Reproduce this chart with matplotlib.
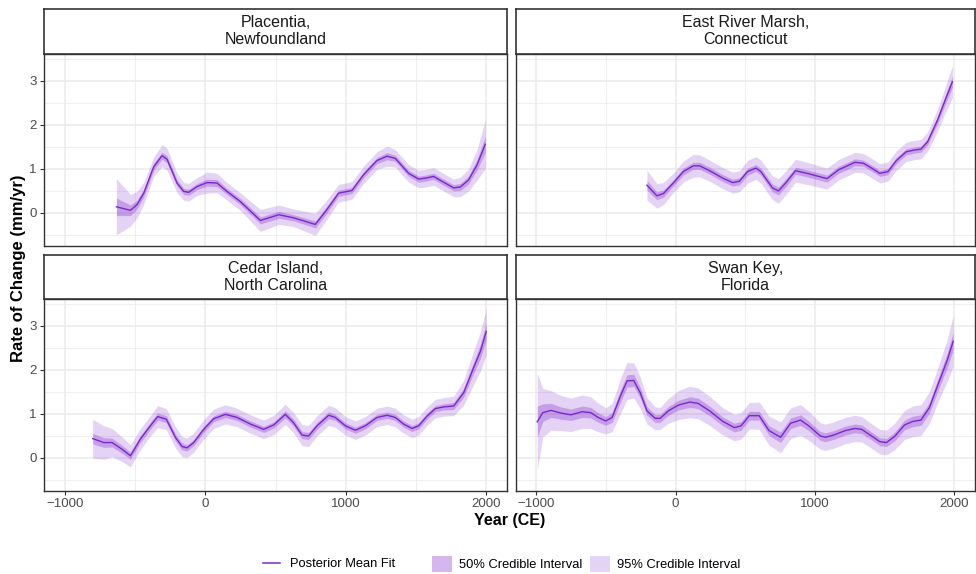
import numpy as np
import matplotlib
matplotlib.use("Agg")
import matplotlib.pyplot as plt
from matplotlib.lines import Line2D
from matplotlib.patches import Patch

plt.rcParams['font.family'] = ['Liberation Sans', 'DejaVu Sans']

# ---- data ----
sites = ["Placentia,\nNewfoundland", "East River Marsh,\nConnecticut",
         "Cedar Island,\nNorth Carolina", "Swan Key,\nFlorida"]

plac_year = [-634, -534, -487, -439, -368, -309, -273, -202, -154, -119, -59, 12, 83, 154, 249,
             392, 523, 629, 784, 867, 950, 1045, 1128, 1223, 1295, 1354, 1449, 1520, 1568, 1627,
             1686, 1770, 1817, 1876, 1936, 1995]
plac_mean = [0.14, 0.06, 0.19, 0.45, 1.05, 1.30, 1.22, 0.68, 0.49, 0.47, 0.60, 0.69, 0.68, 0.49, 0.26,
             -0.17, -0.04, -0.11, -0.26, 0.08, 0.45, 0.51, 0.87, 1.19, 1.29, 1.24, 0.90, 0.77, 0.79, 0.83,
             0.72, 0.57, 0.59, 0.75, 1.09, 1.56]
plac_hw95 = [0.64, 0.36, 0.30, 0.25, 0.22, 0.25, 0.25, 0.22, 0.20, 0.20, 0.20, 0.24, 0.22, 0.20, 0.20,
             0.25, 0.22, 0.20, 0.25, 0.22, 0.20, 0.20, 0.20, 0.20, 0.23, 0.20, 0.20, 0.20, 0.20, 0.20,
             0.20, 0.20, 0.22, 0.25, 0.35, 0.55]
plac_hw50 = [0.20, 0.12, 0.10, 0.09, 0.08, 0.08, 0.08, 0.07, 0.07, 0.07, 0.07, 0.08, 0.08, 0.07, 0.07,
             0.08, 0.08, 0.07, 0.08, 0.08, 0.07, 0.07, 0.07, 0.07, 0.08, 0.07, 0.07, 0.07, 0.07, 0.07,
             0.07, 0.07, 0.08, 0.09, 0.12, 0.18]

erm_year = [-206, -135, -88, -17, 55, 126, 173, 244, 339, 410, 458, 517, 577, 612, 695, 738, 790,
            861, 956, 1087, 1170, 1288, 1348, 1407, 1466, 1525, 1585, 1656, 1715, 1762, 1810, 1881,
            1940, 1988]
erm_mean = [0.63, 0.39, 0.44, 0.68, 0.94, 1.07, 1.07, 0.96, 0.79, 0.69, 0.72, 0.94, 1.02, 0.94, 0.57,
            0.50, 0.68, 0.96, 0.89, 0.78, 0.98, 1.15, 1.13, 1.02, 0.90, 0.94, 1.19, 1.39, 1.43, 1.45,
            1.62, 2.11, 2.60, 2.98]
erm_hw95 = [0.34, 0.28, 0.25, 0.22, 0.24, 0.26, 0.25, 0.24, 0.24, 0.24, 0.24, 0.26, 0.26, 0.26, 0.27,
            0.28, 0.27, 0.26, 0.25, 0.24, 0.23, 0.23, 0.22, 0.22, 0.22, 0.22, 0.22, 0.22, 0.22, 0.22,
            0.22, 0.25, 0.30, 0.36]
erm_hw50 = [0.11, 0.09, 0.08, 0.07, 0.08, 0.08, 0.08, 0.08, 0.08, 0.08, 0.08, 0.08, 0.08, 0.08, 0.09,
            0.09, 0.09, 0.08, 0.08, 0.08, 0.08, 0.08, 0.07, 0.07, 0.07, 0.07, 0.07, 0.07, 0.07, 0.07,
            0.07, 0.08, 0.10, 0.13]

ced_year = [-803, -724, -665, -594, -534, -463, -392, -340, -278, -214, -166, -131, -83, -12, 59,
            143, 226, 321, 416, 487, 570, 629, 689, 736, 796, 879, 926, 998, 1069, 1140, 1223, 1295,
            1354, 1413, 1473, 1520, 1580, 1639, 1698, 1770, 1841, 1912, 1960, 2002]
ced_mean = [0.44, 0.35, 0.35, 0.20, 0.05, 0.43, 0.73, 0.94, 0.88, 0.47, 0.26, 0.23, 0.35, 0.65, 0.89,
            0.99, 0.92, 0.77, 0.65, 0.75, 0.99, 0.80, 0.52, 0.50, 0.73, 0.97, 0.92, 0.73, 0.63, 0.73,
            0.92, 0.97, 0.92, 0.77, 0.67, 0.73, 0.95, 1.12, 1.16, 1.18, 1.48, 2.05, 2.42, 2.87]
ced_hw95 = [0.44, 0.38, 0.32, 0.28, 0.25, 0.24, 0.23, 0.25, 0.24, 0.24, 0.23, 0.22, 0.22, 0.22, 0.22,
            0.22, 0.21, 0.21, 0.21, 0.22, 0.23, 0.23, 0.24, 0.24, 0.23, 0.23, 0.22, 0.21, 0.21, 0.21,
            0.21, 0.21, 0.21, 0.21, 0.21, 0.21, 0.21, 0.21, 0.21, 0.22, 0.28, 0.38, 0.45, 0.53]
ced_hw50 = [0.12, 0.11, 0.10, 0.09, 0.08, 0.08, 0.08, 0.08, 0.08, 0.08, 0.08, 0.07, 0.07, 0.07, 0.07,
            0.07, 0.07, 0.07, 0.07, 0.07, 0.08, 0.08, 0.08, 0.08, 0.08, 0.08, 0.07, 0.07, 0.07, 0.07,
            0.07, 0.07, 0.07, 0.07, 0.07, 0.07, 0.07, 0.07, 0.07, 0.08, 0.10, 0.13, 0.16, 0.19]

swan_year = [-994, -954, -895, -824, -753, -671, -610, -562, -503, -456, -396, -349, -301, -254, -206,
             -147, -111, -52, 19, 102, 161, 244, 339, 422, 470, 529, 600, 671, 754, 826, 897, 956,
             1039, 1075, 1134, 1217, 1288, 1336, 1407, 1466, 1514, 1573, 1644, 1703, 1762, 1822, 1893,
             1952, 1993]
swan_mean = [0.82, 1.03, 1.08, 1.02, 0.98, 1.05, 1.03, 0.93, 0.84, 0.92, 1.41, 1.75, 1.76, 1.48, 1.07,
             0.90, 0.90, 1.07, 1.20, 1.27, 1.24, 1.07, 0.83, 0.69, 0.73, 0.96, 0.96, 0.62, 0.47, 0.79,
             0.86, 0.73, 0.50, 0.47, 0.52, 0.62, 0.67, 0.65, 0.50, 0.37, 0.35, 0.49, 0.75, 0.83, 0.86,
             1.14, 1.74, 2.23, 2.65]
swan_hw95 = [1.10, 0.55, 0.45, 0.40, 0.38, 0.38, 0.36, 0.33, 0.30, 0.32, 0.40, 0.42, 0.40, 0.36, 0.30,
             0.26, 0.25, 0.28, 0.33, 0.36, 0.35, 0.33, 0.31, 0.30, 0.30, 0.30, 0.31, 0.33, 0.35, 0.35,
             0.35, 0.33, 0.30, 0.30, 0.30, 0.30, 0.30, 0.29, 0.28, 0.28, 0.28, 0.30, 0.33, 0.35, 0.35,
             0.36, 0.40, 0.48, 0.58]
swan_hw50 = [0.36, 0.20, 0.16, 0.14, 0.13, 0.13, 0.12, 0.11, 0.10, 0.11, 0.14, 0.14, 0.14, 0.12, 0.10,
             0.09, 0.09, 0.10, 0.11, 0.12, 0.12, 0.11, 0.10, 0.10, 0.10, 0.10, 0.10, 0.11, 0.12, 0.12,
             0.12, 0.11, 0.10, 0.10, 0.10, 0.10, 0.10, 0.10, 0.09, 0.09, 0.09, 0.10, 0.11, 0.12, 0.12,
             0.12, 0.14, 0.17, 0.20]

series = [(plac_year, plac_mean, plac_hw95, plac_hw50),
          (erm_year, erm_mean, erm_hw95, erm_hw50),
          (ced_year, ced_mean, ced_hw95, ced_hw50),
          (swan_year, swan_mean, swan_hw95, swan_hw50)]

xticks = [-1000, 0, 1000, 2000]
yticks = [0, 1, 2, 3]

col = '#7D26CD'
W, H = 976, 574
fig = plt.figure(figsize=(W / 100, H / 100), dpi=100)

def box(l, t, r, b):
    return [l / W, 1 - b / H, (r - l) / W, (b - t) / H]

panels = [(44, 54, 507, 246), (515.5, 54, 975, 246),
          (44, 299, 507, 491), (515.5, 299, 975, 491)]
strips = [(44, 8.5, 507, 54), (515.5, 8.5, 975, 54),
          (44, 254.5, 507, 299), (515.5, 254.5, 975, 299)]

for i, (name, (yr, mu, h95, h50)) in enumerate(zip(sites, series)):
    yr = np.array(yr); mu = np.array(mu); h95 = np.array(h95); h50 = np.array(h50)
    ax = fig.add_axes(box(*panels[i]))
    ax.fill_between(yr, mu - h95, mu + h95, color=col, alpha=0.2, lw=0)
    ax.fill_between(yr, mu - h50, mu + h50, color=col, alpha=0.3, lw=0)
    ax.plot(yr, mu, color=col, lw=1.0)
    ax.set_xlim(-1150, 2150)
    ax.set_ylim(-0.75, 3.61)
    ax.set_xticks(xticks)
    ax.set_yticks(yticks)
    ax.set_xticks([-500, 500, 1500], minor=True)
    ax.set_yticks([-0.5, 0.5, 1.5, 2.5, 3.5], minor=True)
    ax.grid(which='major', color='#EBEBEB', lw=1.1)
    ax.grid(which='minor', color='#EBEBEB', lw=0.55)
    ax.set_axisbelow(True)
    for s in ax.spines.values():
        s.set_color('#333333'); s.set_linewidth(1.0)
    ax.tick_params(which='minor', length=0)
    ax.tick_params(which='major', length=3.2, width=0.8, color='#333333',
                   labelsize=9.6, labelcolor='#4D4D4D', pad=2)
    if i % 2 == 1:
        ax.tick_params(axis='y', length=0, labelleft=False)
    if i < 2:
        ax.tick_params(axis='x', length=0, labelbottom=False)

    sa = fig.add_axes(box(*strips[i]))
    sa.set_xticks([]); sa.set_yticks([])
    for s in sa.spines.values():
        s.set_color('#333333'); s.set_linewidth(1.2)
    sa.text(0.5, 0.5, name, ha='center', va='center', fontsize=11.5,
            color='#1A1A1A', linespacing=1.15, transform=sa.transAxes)

fig.text(19 / W, 1 - 268 / H, 'Rate of Change (mm/yr)', rotation=90, ha='center', va='center',
         fontsize=12, fontweight='bold')
fig.text(509.5 / W, 1 - 521 / H, 'Year (CE)', ha='center', va='center',
         fontsize=11.5, fontweight='bold')

fig.legend(handles=[Line2D([], [], color=col, lw=1.1)], labels=['Posterior Mean Fit'],
           loc='center left', bbox_to_anchor=(263 / W, 1 - 564 / H), frameon=False,
           fontsize=9.3, handlelength=1.35, handletextpad=0.75, borderpad=0, borderaxespad=0)
fig.legend(handles=[Patch(facecolor=col, alpha=0.33, lw=0), Patch(facecolor=col, alpha=0.2, lw=0)],
           labels=['50% Credible Interval', '95% Credible Interval'], ncol=2,
           loc='center left', bbox_to_anchor=(432 / W, 1 - 564 / H), frameon=False,
           fontsize=9.3, handlelength=1.55, handleheight=1.55, handletextpad=0.55,
           columnspacing=0.6, borderpad=0, borderaxespad=0)

fig.savefig('out.png', dpi=100)
